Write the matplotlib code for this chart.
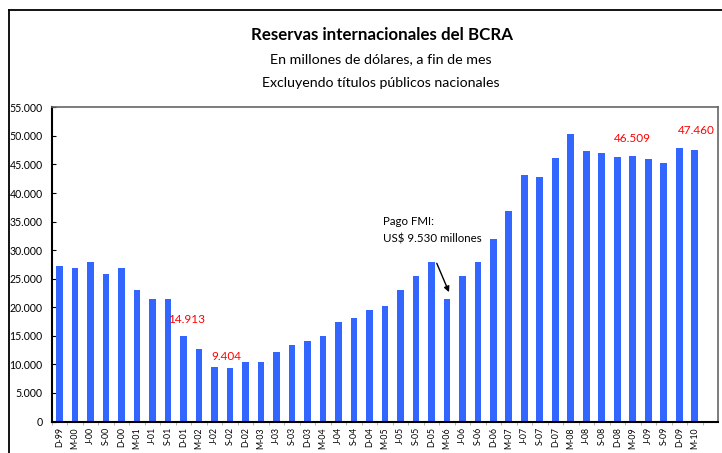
import numpy as np
import matplotlib.pyplot as plt
from matplotlib.lines import Line2D
from matplotlib.ticker import FuncFormatter

# datos: reservas a fin de trimestre (millones de USD)
meses = ['D-99', 'M-00', 'J-00', 'S-00', 'D-00', 'M-01', 'J-01', 'S-01', 'D-01',
         'M-02', 'J-02', 'S-02', 'D-02', 'M-03', 'J-03', 'S-03', 'D-03', 'M-04',
         'J-04', 'S-04', 'D-04', 'M-05', 'J-05', 'S-05', 'D-05', 'M-06', 'J-06',
         'S-06', 'D-06', 'M-07', 'J-07', 'S-07', 'D-07', 'M-08', 'J-08', 'S-08',
         'D-08', 'M-09', 'J-09', 'S-09', 'D-09', 'M-10']
reservas = [27200, 26850, 27900, 25800, 26850, 23000, 21400, 21400, 14913,
            12700, 9500, 9404, 10450, 10400, 12100, 13400, 14100, 15000,
            17400, 18100, 19500, 20200, 23000, 25500, 27900, 21400, 25500,
            27900, 31900, 36900, 43100, 42800, 46100, 50300, 47300, 47000,
            46300, 46509, 45900, 45200, 47800, 47460]
destacados = ['D-01', 'S-02', 'M-09', 'M-10']

def miles(v, pos=None):
    return '{:,.0f}'.format(v).replace(',', '.')

fuente = 'Lato'
plt.rcParams['font.family'] = [fuente, 'DejaVu Sans']

fig = plt.figure(figsize=(7.22, 4.53), dpi=100)
ax = fig.add_axes([0.0716, 0.0695, 0.9229, 0.6935])

x = np.arange(len(meses))
ax.bar(x, reservas, width=0.43, color='#3366FF', zorder=2)

ax.set_xlim(-0.5, len(meses) + 0.5)
ax.set_ylim(0, 55000)
ax.set_yticks(np.arange(0, 55001, 5000))
ax.yaxis.set_major_formatter(FuncFormatter(miles))
ax.tick_params(axis='y', direction='in', length=3, labelsize=7.6, pad=6.5)
ax.set_xticks(x)
ax.set_xticklabels(meses, rotation=90, fontsize=6.3)
ax.tick_params(axis='x', length=0, pad=4)
ax.set_xticks(np.arange(-0.5, len(meses) + 0.5, 1), minor=True)
ax.tick_params(axis='x', which='minor', direction='out', length=2, color='#aaaaaa')

for s in ['left', 'bottom']:
    ax.spines[s].set_linewidth(1.5)
for s in ['top', 'right']:
    ax.spines[s].set_color('#666666')
    ax.spines[s].set_linewidth(1.2)

# etiquetas en rojo
offs = {'D-01': (0.22, 3000), 'S-02': (-0.2, 1950), 'M-09': (0, 3100), 'M-10': (0.1, 3450)}
for m in destacados:
    i = meses.index(m)
    dx, dy = offs[m]
    ax.text(i + dx, reservas[i] + dy, miles(reservas[i]), color='red',
            fontsize=8.5, ha='center', va='center')

# pago al FMI
i = meses.index('M-06')
ax.text(20.9, 35100, 'Pago FMI:', fontsize=8.3, ha='left', va='center')
ax.text(20.9, 31900, 'US$ 9.530 millones', fontsize=8.3, ha='left', va='center')
ax.annotate('', xy=(i + 0.14, reservas[i] + 1250), xytext=(i - 0.65, 27700),
            arrowprops=dict(arrowstyle='-|>', color='black', lw=1, mutation_scale=8,
                            shrinkA=0, shrinkB=0))

# titulos
fig.text(0.529, 1 - 35 / 453, 'Reservas internacionales del BCRA', fontsize=12.2,
         fontweight='bold', ha='center', va='center')
fig.text(0.527, 1 - 59 / 453, 'En millones de dólares, a fin de mes', fontsize=10.3,
         ha='center', va='center')
fig.text(0.527, 1 - 83 / 453, 'Excluyendo títulos públicos nacionales', fontsize=10.2,
         ha='center', va='center')

# marco
fig.add_artist(Line2D([9 / 722, 9 / 722], [0, 1 - 10 / 453], color='black', lw=1.3))
fig.add_artist(Line2D([9 / 722, 1], [1 - 10 / 453, 1 - 10 / 453], color='black', lw=1.3))

plt.savefig('out.png', dpi=100)
